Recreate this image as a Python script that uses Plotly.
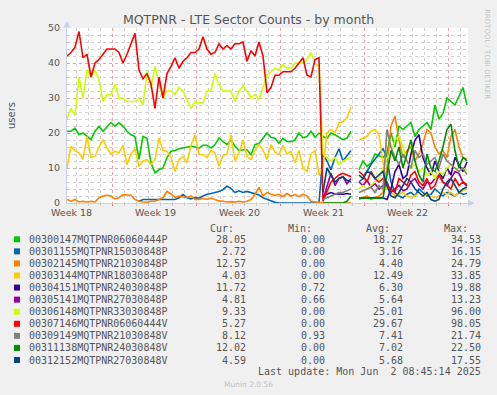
import plotly.graph_objects as go

# ---------------- data ----------------
names = ["00300147MQTPNR06060444P", "00301155MQTPNR15030848P", "00302145MQTPNR21030848P",
         "00303144MQTPNR18030848P", "00304151MQTPNR24030848P", "00305141MQTPNR27030848P",
         "00306148MQTPNR33030848P", "00307146MQTPNR06060444V", "00309149MQTPNR21030848V",
         "00311138MQTPNR24030848V", "00312152MQTPNR27030848V"]
colors = ["#00CC00", "#0066B3", "#FF8000", "#FFCC00", "#330099", "#990099",
          "#CCFF00", "#FF0000", "#808080", "#008F00", "#00487D"]
cur_vals = ["28.05", "2.72", "12.57", "4.03", "11.72", "4.81", "9.33", "5.27", "8.12", "12.02", "4.59"]
min_vals = ["0.00", "0.00", "0.00", "0.00", "0.72", "0.66", "0.00", "0.00", "0.93", "0.00", "0.00"]
avg_vals = ["18.27", "3.16", "4.40", "12.49", "6.30", "5.64", "25.01", "29.67", "7.41", "7.02", "5.68"]
max_vals = ["34.53", "16.15", "24.79", "33.85", "19.88", "13.23", "96.00", "98.05", "21.74", "22.50", "17.55"]

week_labels = ["Week 18", "Week 19", "Week 20", "Week 21", "Week 22"]
week_label_pos = [0.35, 7.35, 14.35, 21.35, 28.35]     # days from left edge
week_grid_pos = [3.83, 10.83, 17.83, 24.83, 31.83]
x_span_days = 33.42
step_days = 1 / 3          # one sample per 8 hours
n_samples = 101

NA64 = [None] * 64
GAP = [None]

s_00300147 = [20.5, 20.5, 21.4, 19.5, 20, 19, 18.1, 20.5, 21.9, 20.5,
              21.9, 23, 22, 22.9, 22, 20.5, 19.5, 19, 12.5, 19,
              18.5, 11.4, 8.6, 9.5, 10, 13, 14.8, 15, 15.5, 15.7,
              16, 16.2, 16, 15.7, 16.5, 16.5, 15.7, 16.7, 18.6, 17.5,
              16.7, 18, 16.2, 15, 15.2, 15.2, 13.8,
              16.7, 17, 18.5, 20, 18.8, 18.5, 17.1, 18.5, 17.6, 17.5,
              18, 20, 18.6, 19, 20.5, 18.8, 20, 19, 18.5, 20,
              19.5, 18.8, 18.1, 18.5, 20.5] + GAP + \
             [9.5, 12, 10.5, 11.4, 14, 13.5, 13, 14.3, 20, 16,
              22, 21, 22, 23, 19, 21, 22, 23, 21, 28,
              24, 25.5, 30, 29, 28, 30.5, 33, 28.05]

s_00301155 = [None] * 18 + \
             [0.5, 1, 1, 1, 1, 1, 1, 1.2, 1, 1,
              1.5, 2.4, 1.5, 1.2, 1.5, 1.4, 2, 2.5, 2.7, 2.9,
              3.3, 3.8, 4.8, 4.2, 3, 3.5, 3, 3.3, 3, 2.5,
              2.3, 1.5, 1, 0.5, 0.2, 0, 0, 0, 0, 0,
              0, 0, 0, 0, 0, 0] + \
             [14, 12, 9.5, 13, 15.5, 12, 13.5, 15] + GAP + \
             [6, 7, 9, 11, 12.5, 14, 15.5, 13, 6, 3,
              2, 1.5, 2.5, 3, 2, 4, 3, 2, 2.5, 4,
              3, 2, 3, 2.5, 2, 3, 2.5, 2.72]

s_00302145 = [1, 0.5, 1, 0.3, 0.5, 0.3, 0.5, 0.3, 1.5, 2,
              2.2, 2, 1.2, 1.5, 2.4, 2.3, 2.2, 1, 0.5, 0.3,
              0.2, 0.5, 0.5, 1, 1.5, 3.3, 2.6, 1.6, 2, 1.7,
              1.6, 2, 1, 1, 1.3, 1, 1.4, 1, 0.6, 0.5,
              0.3, 0.4, 0.3, 0.5, 0.3, 0.5, 1, 2.5, 4.5, 2,
              3, 2.5, 2.2, 2.5, 1.8, 2.7, 2, 2.4, 1.8, 2.5,
              2, 0.5, 0.3, 0.2] + \
             [0, 0, 0, 0, 0, 0, 0, 0] + GAP + \
             [1, 1.5, 2, 1, 1.5, 2, 3, 10, 22, 24.8,
              18, 13, 15, 16, 12, 14, 17, 21, 20, 16,
              14, 15, 13, 19, 21, 16, 13, 12.57]

s_00303144 = [10, 16.2, 15, 14.3, 12.5, 19, 13, 13.3, 16, 18.1,
              15.7, 14, 14.8, 14.3, 16.5, 11, 14, 15.5, 10.5, 12,
              12.4, 11, 12.4, 18.6, 15, 14.8, 13, 9, 12.4, 13.3,
              11.5, 16.5, 19.5, 14, 13.8, 13, 15, 14.3, 10.5, 13.5,
              14, 19.5, 12, 14.3, 18, 13.3, 12.4,
              15, 16.7, 15.2, 12.4, 16.7, 14.5, 13.8, 16.5, 14, 14.8,
              11.5, 15, 10, 9, 14, 15, 8, 10, 20, 21,
              20, 22.9, 23.3, 24.3, 27.4] + GAP + \
             [18, 18.5, 19, 20.5, 21, 19.5, 12, 4, 3, 2,
              2.5, 3, 2, 1.5, 2, 3, 2, 2.5, 2, 1.5,
              2, 3, 2.5, 3, 2, 3, 3.5, 4.03]

s_00304151 = NA64 + [2, 2.5, 3, 2.6, 2.5, 2.5, 2.7, 2.5] + GAP + \
             [1.4, 1.4, 1.4, 1.4, 1.4, 1.4, 1.5, 1, 4, 9,
              11, 7, 8, 14, 18, 19.5, 13, 10, 8, 12,
              9, 7, 10, 8, 13, 11, 9, 11.72]

s_00305141 = NA64 + [1, 5, 8.5, 5, 7, 7.5, 5.5, 7] + GAP + \
             [6, 5, 6.5, 4.5, 5.5, 4, 5, 6, 3, 4,
              5, 3.5, 4, 6, 7, 5, 4, 6, 5.5, 7,
              8, 6, 5, 7, 9, 8.5, 6, 4.81]

s_00306148 = [24, 27, 25, 36, 30, 38, 36, 38, 35, 29,
              31, 31, 34, 30, 30, 29, 29, 29, 30, 28,
              37.6, 33, 39, 34, 30, 32, 32, 31, 33, 32,
              29.5, 27, 29, 28.6, 28.6, 32, 32, 37, 33.8, 32,
              32, 32, 29, 32, 33.5, 32, 30, 31, 29.5, 33,
              36.5, 37.5, 38.5, 38, 39.5, 38.6, 38.5, 40, 40, 40,
              41, 43, 40, 39] + \
             [14, 13, 12, 13, 11, 12, 12.5, 13] + GAP + \
             [4, 5, 4, 5, 6, 7, 10, 13, 14, 18,
              19, 16, 12, 10, 11, 9, 10, 8, 9, 7,
              9, 8, 10, 11, 10, 9, 10, 9.33]

s_00307146 = [42, 43, 44.5, 49, 41.5, 42.5, 36, 40, 41, 42.5,
              44, 44, 44, 43, 40, 42.5, 45.5, 48.5, 38, 35.5,
              37, 34, 27, 36, 30, 37, 39, 41.5, 38.5, 40.5,
              41.5, 43, 43, 44, 47.5, 44, 42.5, 43, 45.5, 44,
              45, 44, 45.5, 45.5, 46, 40.5, 43.5, 42, 46, 42,
              31.5, 33, 36.5, 36.5, 37.5, 37.5, 37.5, 38.5, 40, 41.5,
              36.5, 36, 41, 41.5] + \
             [0.5, 3, 6, 7, 8, 8.5, 8, 7.5] + GAP + \
             [9, 8, 6, 9, 7, 6, 7, 5, 4, 3,
              7, 6, 5, 8, 9, 6, 5, 7, 4, 5,
              8, 6, 5, 4, 7, 5, 6, 5.27]

s_00309149 = NA64 + [1, 1.5, 2, 2.5, 3, 3, 3.5, 4] + GAP + \
             [3, 3.5, 4, 4.5, 3, 5, 4, 21, 16, 13,
              11, 14, 12, 10, 15, 13, 14, 11, 12, 13,
              10, 14, 12, 11, 10, 9, 10, 8.12]

s_00311138 = NA64 + [0, 0, 0, 0, 0, 0, 0.5, 2] + GAP + \
             [1.4, 1.4, 1.4, 1.4, 1.4, 1.4, 1.4, 8, 15, 12,
              16, 10, 14, 18, 12, 8, 6, 14, 10, 9,
              12, 16, 21, 22.5, 15, 10, 13, 12.02]

s_00312152 = NA64 + [3, 10, 8, 6, 7, 7.5, 6.5, 6] + GAP + \
             [8, 7, 9, 8.5, 7, 8, 9, 5, 2, 1.5,
              3, 5, 7, 6, 4, 3, 2, 3, 1, 0.5,
              1, 4, 6, 7, 5, 3, 4, 4.59]

series = [s_00300147, s_00301155, s_00302145, s_00303144, s_00304151, s_00305141,
          s_00306148, s_00307146, s_00309149, s_00311138, s_00312152]

# ---------------- figure ----------------
W, H = 497, 395
ML, MR, MT, MB = 67, 29, 28, 192
PW, PH = W - ML - MR, H - MT - MB


def xp(px):
    return (px - ML) / PW


def yp(py):
    return (H - MB - py) / PH


xs = [i * step_days for i in range(n_samples)]
TXT = "#555555"
SANS = "DejaVu Sans"
MONO = "DejaVu Sans Mono"

fig = go.Figure()
for name, col, ys in zip(names, colors, series):
    fig.add_trace(go.Scatter(x=xs, y=ys, mode="lines", name=name,
                             line=dict(color=col, width=1.6),
                             connectgaps=False, hoverinfo="skip", showlegend=False))


def txt(text, x, y, xanchor="center", size=10, family=MONO, color=TXT, xref="paper", angle=0):
    return dict(text=text, x=x, y=y, xref=xref, yref="paper", xanchor=xanchor, yanchor="middle",
                showarrow=False, textangle=angle, font=dict(family=family, size=size, color=color))


ann = []
ann.append(txt("MQTPNR - LTE Sector Counts - by month", xp(248), yp(19), size=12.5, family=SANS))
ann.append(txt("users", xp(11), yp(116), size=10, family=SANS, angle=-90))
ann.append(txt("RRDTOOL / TOBI OETIKER", xp(487), yp(54), size=7, family=SANS, color="#c4c4c4", angle=90))
for lab, pos in zip(week_labels, week_label_pos):
    ann.append(txt(lab, pos, yp(212), size=9.5, family=SANS, xref="x"))

# legend header
for t, rx in zip(["Cur:", "Min:", "Avg:", "Max:"], [235.5, 313.5, 392, 470.5]):
    ann.append(txt(t, xp(rx), yp(228.5), xanchor="right"))

shapes = []
row0, drow = 239.3, 12.07
for k, name in enumerate(names):
    cy = row0 + k * drow
    shapes.append(dict(type="rect", xref="paper", yref="paper",
                       x0=xp(14), x1=xp(20), y0=yp(cy - 3), y1=yp(cy + 3),
                       fillcolor=colors[k], line=dict(width=0)))
    ann.append(txt(name, xp(26.5), yp(cy), xanchor="left"))
    for val, rx in zip([cur_vals[k], min_vals[k], avg_vals[k], max_vals[k]], [248, 327, 404.5, 482.5]):
        ann.append(txt(val, xp(rx), yp(cy), xanchor="right"))

ann.append(txt("Last update: Mon Jun&nbsp; 2 08:45:14 2025", xp(482.5), yp(371), xanchor="right"))
ann.append(txt("Munin 2.0.56", xp(248), yp(384), size=7.5, family=SANS, color="#c0c0c0"))

# axis arrows
AX = "#c8d0ee"
shapes.append(dict(type="path", xref="paper", yref="paper",
                   path=f"M {xp(63.5)} {yp(27.5)} L {xp(70.5)} {yp(27.5)} L {xp(67)} {yp(21)} Z",
                   fillcolor=AX, line=dict(width=0)))
shapes.append(dict(type="path", xref="paper", yref="paper",
                   path=f"M {xp(468)} {yp(199.5)} L {xp(468)} {yp(206.5)} L {xp(474.5)} {yp(203)} Z",
                   fillcolor=AX, line=dict(width=0)))

MAJ = "#e8a4a4"
MIN = "#d2d2d2"
fig.update_layout(
    width=W, height=H,
    margin=dict(l=ML, r=MR, t=MT, b=MB),
    paper_bgcolor="#F0F0F0", plot_bgcolor="#FFFFFF",
    annotations=ann, shapes=shapes,
    xaxis=dict(range=[0, x_span_days], tickmode="array", tickvals=week_grid_pos,
               ticktext=[""] * len(week_grid_pos), showgrid=True, gridcolor=MAJ,
               griddash="dot", gridwidth=1, ticks="outside", ticklen=2, tickcolor="#e08080",
               showline=True, linecolor=AX, linewidth=1, zeroline=False,
               minor=dict(tick0=0.83, dtick=1, showgrid=True, gridcolor=MIN, griddash="dot",
                          ticks="outside", ticklen=2, tickcolor="#c8c8c8")),
    yaxis=dict(range=[0, 50], dtick=10, tick0=0, showgrid=True, gridcolor=MAJ, griddash="dot",
               gridwidth=1, showline=True, linecolor=AX, linewidth=1, zeroline=False,
               ticks="", ticklabelstandoff=4,
               tickfont=dict(family=SANS, size=9.5, color=TXT),
               minor=dict(dtick=2, showgrid=True, gridcolor=MIN, griddash="dot")),
)

fig.write_html("out.html", config={"displayModeBar": False},
               post_script="document.body.style.margin='0';document.body.style.background='#F0F0F0';")
